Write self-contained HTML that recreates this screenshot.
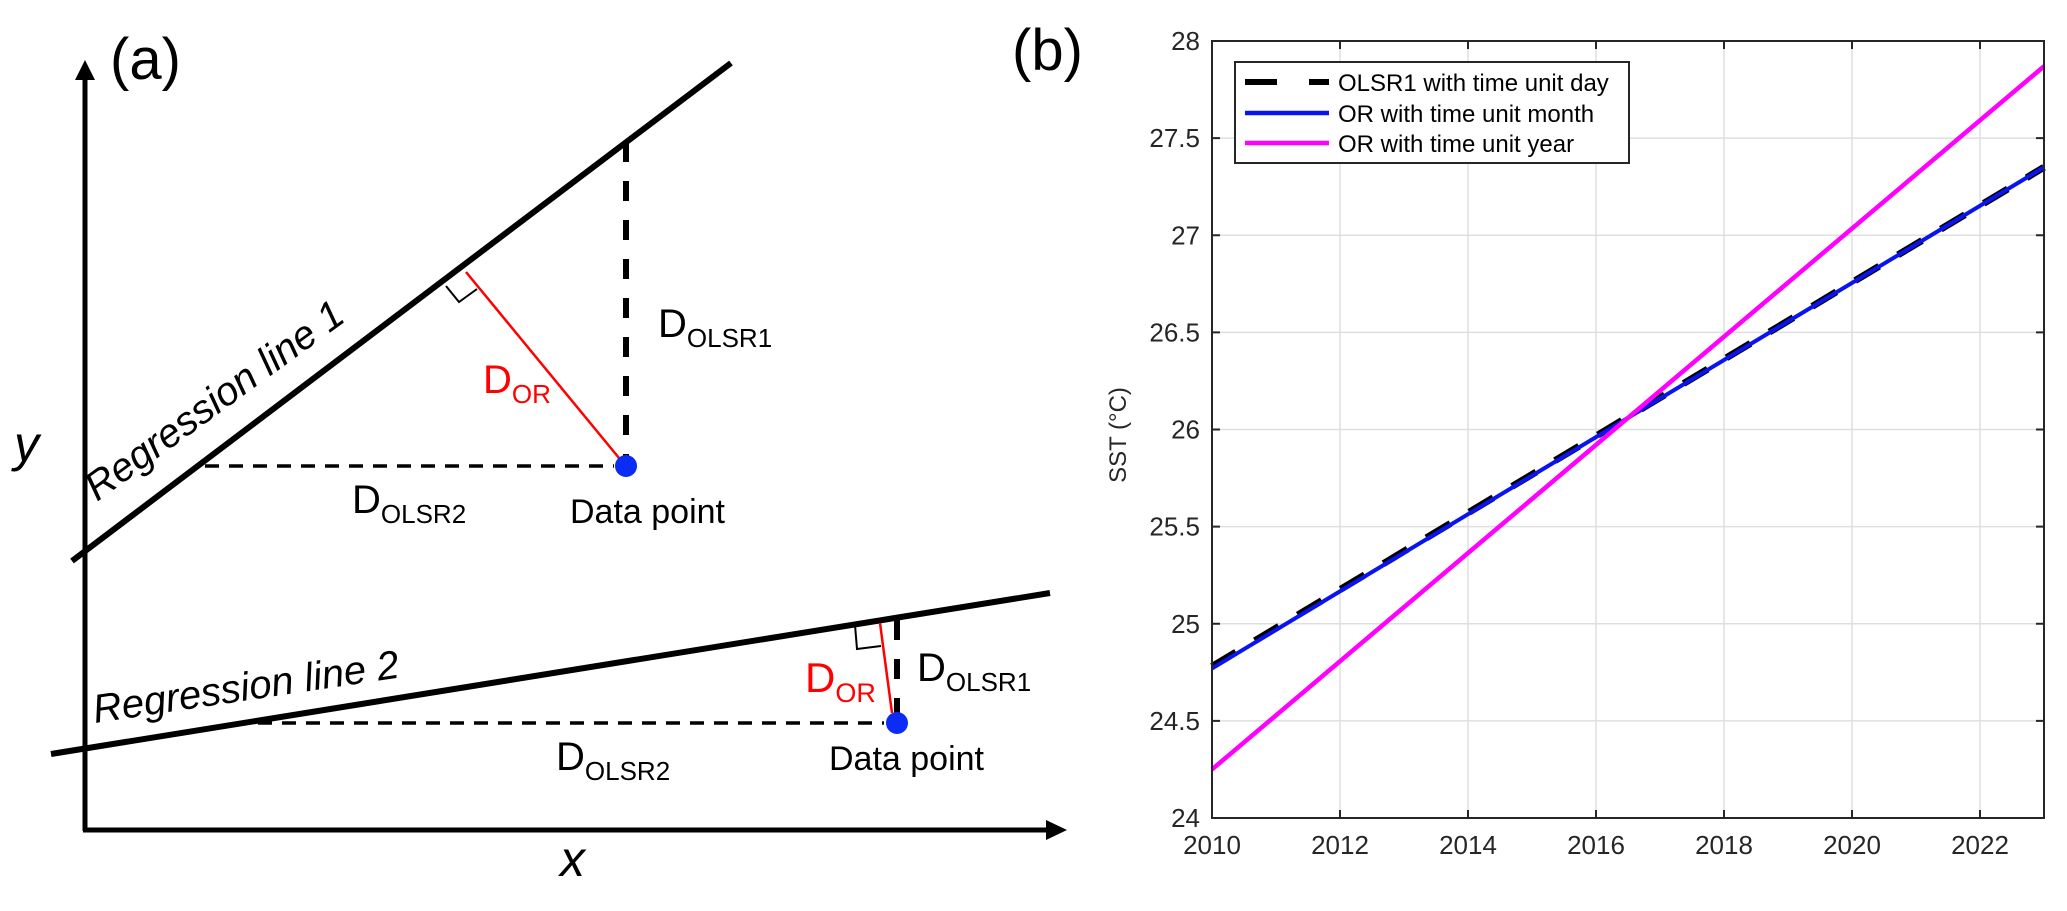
<!DOCTYPE html>
<html>
<head>
<meta charset="utf-8">
<style>
html,body{margin:0;padding:0;background:#fff;}
svg{display:block;}
text{font-family:"Liberation Sans",Arial,sans-serif;}
</style>
</head>
<body>
<svg id="fig" width="2067" height="911" viewBox="0 0 2067 911" xmlns="http://www.w3.org/2000/svg">
  <g>
    <text x="110" y="79" font-size="58" fill="#000">(a)</text>
    <line x1="85" y1="831" x2="85" y2="78" stroke="#000" stroke-width="5"/>
    <polygon points="85,60 75,80 95,80" fill="#000"/>
    <line x1="83" y1="830" x2="1050" y2="830" stroke="#000" stroke-width="5"/>
    <polygon points="1067,830 1046,820 1046,840" fill="#000"/>
    <text x="14" y="461" font-size="50" font-style="italic">y</text>
    <text x="560" y="876" font-size="50" font-style="italic">x</text>

    <line x1="72" y1="561" x2="731" y2="63" stroke="#000" stroke-width="6"/>
    <text transform="translate(97,502) rotate(-36)" font-size="40" font-style="italic">Regression line 1</text>
    <line x1="205" y1="466" x2="614" y2="466" stroke="#000" stroke-width="3.5" stroke-dasharray="14,10"/>
    <line x1="626" y1="142" x2="626" y2="460" stroke="#000" stroke-width="6" stroke-dasharray="20,19"/>
    <line x1="466" y1="272" x2="619" y2="458" stroke="#f00" stroke-width="2.5"/>
    <polyline points="446,286 459,302 477,289" fill="none" stroke="#000" stroke-width="2"/>
    <circle cx="626" cy="466" r="11" fill="#0a2cf5"/>
    <text x="483" y="393" font-size="40" fill="#f00">D<tspan font-size="26" dy="10">OR</tspan></text>
    <text x="658" y="337" font-size="40" fill="#000">D<tspan font-size="26" dy="10">OLSR1</tspan></text>
    <text x="352" y="513" font-size="40" fill="#000">D<tspan font-size="26" dy="10">OLSR2</tspan></text>
    <text x="570" y="523" font-size="34" fill="#000">Data point</text>

    <line x1="51" y1="754" x2="1050" y2="593" stroke="#000" stroke-width="6"/>
    <text transform="translate(95,723) rotate(-8.5)" font-size="40" font-style="italic">Regression line 2</text>
    <line x1="258" y1="723" x2="884" y2="723" stroke="#000" stroke-width="3.5" stroke-dasharray="14,10"/>
    <line x1="897" y1="620" x2="897" y2="716" stroke="#000" stroke-width="6" stroke-dasharray="20,19"/>
    <line x1="880" y1="623" x2="892" y2="713" stroke="#f00" stroke-width="2.5"/>
    <polyline points="855,625 857,649 881,646" fill="none" stroke="#000" stroke-width="2"/>
    <circle cx="897" cy="723" r="11" fill="#0a2cf5"/>
    <text x="805" y="692" font-size="42" fill="#f00">D<tspan font-size="27" dy="10">OR</tspan></text>
    <text x="917" y="681" font-size="40" fill="#000">D<tspan font-size="26" dy="10">OLSR1</tspan></text>
    <text x="556" y="770" font-size="40" fill="#000">D<tspan font-size="26" dy="10">OLSR2</tspan></text>
    <text x="829" y="770" font-size="34" fill="#000">Data point</text>
  </g>

  <text x="1012" y="70" font-size="58" fill="#000">(b)</text>
  <g id="chart"></g>
</svg>

<script>
const xDomain = [2010, 2023];
const yDomain = [24, 28];
const xTicks = [2010, 2012, 2014, 2016, 2018, 2020, 2022];
const yTicks = [24, 24.5, 25, 25.5, 26, 26.5, 27, 27.5, 28];
const yTickLabels = ["24", "24.5", "25", "25.5", "26", "26.5", "27", "27.5", "28"];
const lineYears = [2010, 2023];
const olsr1Day = [24.78, 27.35];
const orMonth = [24.77, 27.35];
const orYear = [24.25, 27.87];
const legendLabels = ["OLSR1 with time unit day", "OR with time unit month", "OR with time unit year"];

const NS = "http://www.w3.org/2000/svg";
const g = document.getElementById("chart");
const L = 1212, R = 2044, T = 41, B = 818;
function sx(v){ return L + (v - xDomain[0]) / (xDomain[1] - xDomain[0]) * (R - L); }
function sy(v){ return B - (v - yDomain[0]) / (yDomain[1] - yDomain[0]) * (B - T); }
function mk(tag, attrs){ const e = document.createElementNS(NS, tag); for (const k in attrs) e.setAttribute(k, attrs[k]); g.appendChild(e); return e; }

let bg = mk("rect", {x:L, y:T, width:R-L, height:B-T, fill:"#fff"});


xTicks.forEach(t => {
  const gl = mk("line", {x1:sx(t), x2:sx(t), y1:T, y2:B, stroke:"#dfdfdf", "stroke-width":1.5});
  
  
});
yTicks.forEach(t => {
  const gl = mk("line", {x1:L, x2:R, y1:sy(t), y2:sy(t), stroke:"#dfdfdf", "stroke-width":1.5});
  
  
});

function series(vals, color, width, dash, name){
  const e = mk("line", {x1:sx(lineYears[0]), y1:sy(vals[0]), x2:sx(lineYears[1]), y2:sy(vals[1]), stroke:color, "stroke-width":width});
  if (dash) e.setAttribute("stroke-dasharray", dash);
  
  
}
series(olsr1Day, "#000", 7, "28,22", "olsr1-day-line");
series(orMonth, "#0a14f0", 4, null, "or-month-line");
series(orYear, "#ff00ff", 4.5, null, "or-year-line");

let box = mk("rect", {x:L, y:T, width:R-L, height:B-T, fill:"none", stroke:"#262626", "stroke-width":2});


xTicks.forEach((t, i) => {
  const x = sx(t);
  mk("line", {x1:x, x2:x, y1:B, y2:B-8, stroke:"#262626", "stroke-width":2});
  mk("line", {x1:x, x2:x, y1:T, y2:T+8, stroke:"#262626", "stroke-width":2});
  const lab = mk("text", {x:x, y:B+36, "font-size":26, "text-anchor":"middle", fill:"#262626"});
  lab.textContent = String(t);
  
  
});
yTicks.forEach((t, i) => {
  const y = sy(t);
  mk("line", {x1:L, x2:L+8, y1:y, y2:y, stroke:"#262626", "stroke-width":2});
  mk("line", {x1:R, x2:R-8, y1:y, y2:y, stroke:"#262626", "stroke-width":2});
  const lab = mk("text", {x:L-12, y:y+9, "font-size":26, "text-anchor":"end", fill:"#262626"});
  lab.textContent = yTickLabels[i];
  
  
});
let yt = mk("text", {transform:"translate(1126,435) rotate(-90)", "font-size":24, "text-anchor":"middle", fill:"#262626"});
yt.textContent = "SST (°C)";



let lg = mk("rect", {x:1235, y:62, width:394, height:101, fill:"#fff", stroke:"#262626", "stroke-width":2});


const rowsY = [82, 113, 143];
const sampleColors = ["#000", "#0a14f0", "#ff00ff"];
rowsY.forEach((y, i) => {
  if (i === 0) {
    const s1 = mk("line", {x1:1245, x2:1277, y1:y, y2:y, stroke:"#000", "stroke-width":6});
    
    
    mk("line", {x1:1309, x2:1329, y1:y, y2:y, stroke:"#000", "stroke-width":6});
  } else {
    const s = mk("line", {x1:1245, x2:1329, y1:y, y2:y, stroke:sampleColors[i], "stroke-width":4.5});
    
    
  }
  const t = mk("text", {x:1338, y:y+9, "font-size":24, fill:"#000"});
  t.textContent = legendLabels[i];
  
  
});
</script>
</body>
</html>
